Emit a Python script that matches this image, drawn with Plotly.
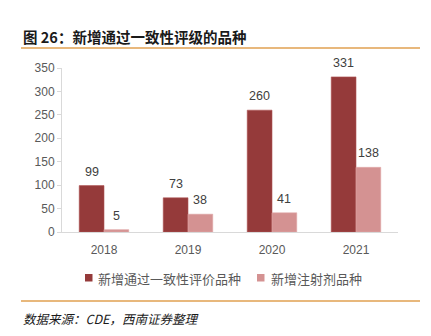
import plotly.graph_objects as go

years = ["2018", "2019", "2020", "2021"]
consistency = [99, 73, 260, 331]
injection = [5, 38, 41, 138]
series_names = ["新增通过一致性评价品种", "新增注射剂品种"]
y_ticks = [0, 50, 100, 150, 200, 250, 300, 350]

title_text = "图 26：新增通过一致性评级的品种"
source_text = "数据来源：CDE，西南证券整理"

FONT = "Liberation Sans, Noto Sans CJK SC, sans-serif"
CJK = "Noto Sans CJK SC, sans-serif"
DARK = "#953A3A"
LIGHT = "#D49292"
LABEL = "#404040"
GREY = "#595959"
RULE = "#E0A050"

# plot box in pixels (431x336 canvas)
L, R, T, B = 62, 33, 68, 104
W, H = 431, 336
PW, PH = W - L - R, H - T - B


def px(x):
    return (x - L) / PW


def py(y):
    return (H - B - y) / PH


BAR_PX = PW / len(years) * (1 - 0.41) / 2  # width of one bar in pixels

fig = go.Figure()
fig.add_trace(go.Bar(
    x=years, y=consistency, name=series_names[0],
    marker=dict(color=DARK, line=dict(color="#B05555", width=0.6)),
))
fig.add_trace(go.Bar(
    x=years, y=injection, name=series_names[1],
    marker=dict(color=LIGHT, line=dict(color="#E0AAAA", width=0.6)),
))

# value labels above each bar (category axis positions are indices)
for vals, shift in ((consistency, -BAR_PX / 2), (injection, BAR_PX / 2)):
    for i, v in enumerate(vals):
        fig.add_annotation(
            x=i, y=v, xref="x", yref="y", text=str(v), showarrow=False,
            xanchor="center", yanchor="bottom", xshift=shift, yshift=5,
            font=dict(family=FONT, size=12.5, color=LABEL),
        )

fig.update_layout(
    width=W, height=H,
    margin=dict(l=L, r=R, t=T, b=B),
    paper_bgcolor="white", plot_bgcolor="white",
    barmode="group", bargap=0.41, bargroupgap=0,
    font=dict(family=FONT, size=12, color=GREY),
    showlegend=False,
    xaxis=dict(
        type="category", range=[-0.5, len(years) - 0.5],
        showline=True, linecolor="#D9D9D9", linewidth=1,
        ticks="", tickfont=dict(size=12, color=GREY),
        ticklabelstandoff=7, showgrid=False,
    ),
    yaxis=dict(
        range=[0, 350], tickvals=y_ticks, showgrid=False,
        showline=True, linecolor="#D9D9D9", linewidth=1,
        ticks="outside", ticklen=4, tickcolor="#D9D9D9",
        tickfont=dict(size=12, color=GREY), zeroline=False,
    ),
)

# legend: colour squares with their series names
legend_items = [
    (series_names[0], DARK, 85, 96),
    (series_names[1], LIGHT, 257, 269),
]
for name, color, sq_x, tx_x in legend_items:
    fig.add_shape(type="rect", xref="paper", yref="paper",
                  x0=px(sq_x), x1=px(sq_x + 7.5), y0=py(274), y1=py(281.5),
                  fillcolor=color, line=dict(width=0))
    fig.add_annotation(
        xref="paper", yref="paper", x=px(tx_x), y=py(278),
        xanchor="left", yanchor="middle", text=name, showarrow=False,
        font=dict(family=CJK, size=13, color=GREY),
    )

# title, rules and source note
fig.add_annotation(
    xref="paper", yref="paper", x=px(21), y=py(36), xanchor="left", yanchor="middle",
    text=f"<b>{title_text}</b>", showarrow=False,
    font=dict(family=CJK, size=14.5, color="#1a1a1a"),
)
for ry in (48, 301):
    fig.add_shape(type="line", xref="paper", yref="paper",
                  x0=px(21), x1=px(420), y0=py(ry), y1=py(ry),
                  line=dict(color=RULE, width=1.5))
fig.add_annotation(
    xref="paper", yref="paper", x=px(21), y=py(318), xanchor="left", yanchor="middle",
    text=f"<i>{source_text}</i>", showarrow=False,
    font=dict(family=CJK, size=12.5, color="#1a1a1a"),
)

fig.write_html("out.html")
